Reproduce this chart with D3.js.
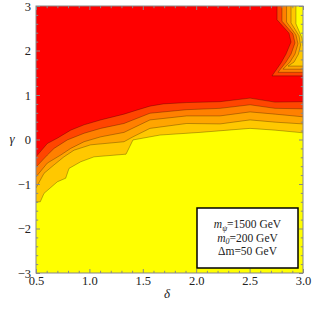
<!DOCTYPE html>
<html>
<head>
<meta charset="utf-8">
<script src="https://cdn.jsdelivr.net/npm/d3@7"></script>
<style>
  body { margin: 0; background: #fff; }
  svg { display: block; }
  text { font-family: "Liberation Serif", "DejaVu Serif", serif; fill: #222; }
  .tick text { font-size: 12.5px; }
</style>
</head>
<body>
<svg id="chart" width="312" height="310"></svg>
<script>
// band colours, lowest (yellow) to highest (red)
const levelColors = ['#ffff00', '#ffc800', '#ffa500', '#ff8000', '#ff4500', '#ff0000']

// lower contour lines, [delta, gamma], left to right
const edge1 = [[0.5, -1.40], [0.54, -1.40], [0.575, -1.21], [0.70, -0.95], [0.778, -0.87], [0.809, -0.65], [0.919, -0.50], [1.043, -0.39], [1.343, -0.33], [1.408, -0.01], [1.661, 0.10], [2.036, 0.16], [2.504, 0.25], [2.738, 0.21], [3.0, 0.15]]
const edge2 = [[0.5, -1.09], [0.575, -0.76], [0.669, -0.57], [0.762, -0.39], [0.856, -0.24], [1.012, -0.12], [1.324, -0.05], [1.408, 0.06], [1.567, 0.25], [1.911, 0.36], [2.223, 0.35], [2.504, 0.44], [2.738, 0.39], [3.0, 0.35]]
const edge3 = [[0.5, -0.84], [0.606, -0.53], [0.731, -0.35], [0.825, -0.20], [0.95, -0.05], [1.106, 0.06], [1.324, 0.16], [1.567, 0.44], [1.911, 0.53], [2.223, 0.53], [2.504, 0.62], [2.738, 0.57], [3.0, 0.51]]
const edge4 = [[0.5, -0.62], [0.606, -0.35], [0.669, -0.20], [0.793, -0.01], [0.95, 0.14], [1.106, 0.25], [1.324, 0.36], [1.567, 0.59], [1.911, 0.67], [2.223, 0.70], [2.504, 0.78], [2.738, 0.70], [3.0, 0.69]]
const edge5 = [[0.5, -0.39], [0.606, -0.09], [0.70, 0.03], [0.825, 0.21], [0.95, 0.33], [1.106, 0.44], [1.324, 0.57], [1.443, 0.66], [1.567, 0.75], [1.692, 0.80], [1.911, 0.83], [2.223, 0.85], [2.504, 0.93], [2.738, 0.84], [3.0, 0.85]]

// contour lines in the top right corner, from the top edge to the right edge
const corner1 = [[2.934, 3], [2.934, 2.60], [2.991, 2.28], [3.0, 2.10]]
const corner2 = [[2.888, 3], [2.888, 2.62], [2.963, 2.33], [2.977, 2.12], [2.958, 1.92], [2.916, 1.74], [2.860, 1.65], [3.0, 1.65]]
const corner3 = [[2.846, 3], [2.846, 2.64], [2.934, 2.35], [2.953, 2.15], [2.925, 1.92], [2.878, 1.74], [2.813, 1.58], [3.0, 1.58]]
const corner4 = [[2.803, 3], [2.803, 2.66], [2.906, 2.37], [2.925, 2.17], [2.888, 1.92], [2.841, 1.74], [2.766, 1.51], [3.0, 1.51]]
const corner5 = [[2.757, 3], [2.757, 2.69], [2.869, 2.39], [2.888, 2.19], [2.841, 1.92], [2.794, 1.72], [2.710, 1.43], [3.0, 1.43]]

const deltaTicks = [0.5, 1.0, 1.5, 2.0, 2.5, 3.0]
const gammaTicks = [-3, -2, -1, 0, 1, 2, 3]

const legendLines = [
    { sym: 'm', sub: 'ψ', rest: '=1500 GeV' },
    { sym: 'm', sub: '0', rest: '=200 GeV' },
    { sym: 'Δm', sub: '', rest: '=50 GeV' }
]

const edges = [edge1, edge2, edge3, edge4, edge5]
const corners = [corner1, corner2, corner3, corner4, corner5]

const svg = d3.select('#chart')

const x = d3.scaleLinear().domain([0.5, 3]).range([36, 303])
const y = d3.scaleLinear().domain([-3, 3]).range([273, 6])

const line = d3.line()
    .x(d => x(d[0]))
    .y(d => y(d[1]))

svg.append('clipPath')
    .attr('id', 'plot-clip')
    .append('rect')
    .attr('x', x(0.5))
    .attr('y', y(3))
    .attr('width', x(3) - x(0.5))
    .attr('height', y(-3) - y(3))

const plot = svg.append('g').attr('clip-path', 'url(#plot-clip)')

// yellow base
plot.append('rect')
    .attr('x', x(0.5))
    .attr('y', y(3))
    .attr('width', x(3) - x(0.5))
    .attr('height', y(-3) - y(3))
    .attr('fill', levelColors[0])

// each band: above its lower edge, outside its corner edge
edges.forEach((edge, i) => {
    const poly = edge.concat(corners[i].slice().reverse(), [[0.5, 3]])
    plot.append('path')
        .attr('d', line(poly) + 'Z')
        .attr('fill', levelColors[i + 1])
})

// contour lines
edges.concat(corners).forEach(c => {
    plot.append('path')
        .attr('d', line(c))
        .attr('fill', 'none')
        .attr('stroke', '#000')
        .attr('stroke-opacity', 0.3)
        .attr('stroke-width', 0.9)
})

// ticks, Mathematica style (inside the frame)
const minorX = d3.range(0.5, 3.001, 0.1).filter(v => Math.abs(v * 2 - Math.round(v * 2)) > 0.01)
const minorY = d3.range(-3, 3.001, 0.2).filter(v => Math.abs(v - Math.round(v)) > 0.01)

const tidy = g => {
    g.select('.domain').remove()
    g.selectAll('.tick line').attr('stroke', '#888')
}

svg.append('g')
    .attr('transform', `translate(0,${y(-3)})`)
    .call(d3.axisBottom(x).tickValues(deltaTicks).tickSize(-4).tickPadding(3).tickFormat(d3.format('.1f')))
    .call(tidy)
svg.append('g')
    .attr('transform', `translate(0,${y(-3)})`)
    .call(d3.axisBottom(x).tickValues(minorX).tickSize(-2.2).tickFormat(''))
    .call(tidy)
svg.append('g')
    .attr('transform', `translate(0,${y(3)})`)
    .call(d3.axisTop(x).tickValues(deltaTicks).tickSize(-4).tickFormat(''))
    .call(tidy)
svg.append('g')
    .attr('transform', `translate(0,${y(3)})`)
    .call(d3.axisTop(x).tickValues(minorX).tickSize(-2.2).tickFormat(''))
    .call(tidy)

svg.append('g')
    .attr('transform', `translate(${x(0.5)},0)`)
    .call(d3.axisLeft(y).tickValues(gammaTicks).tickSize(-4).tickPadding(5).tickFormat(d3.format('d')))
    .call(tidy)
svg.append('g')
    .attr('transform', `translate(${x(0.5)},0)`)
    .call(d3.axisLeft(y).tickValues(minorY).tickSize(-2.2).tickFormat(''))
    .call(tidy)
svg.append('g')
    .attr('transform', `translate(${x(3)},0)`)
    .call(d3.axisRight(y).tickValues(gammaTicks).tickSize(-4).tickFormat(''))
    .call(tidy)
svg.append('g')
    .attr('transform', `translate(${x(3)},0)`)
    .call(d3.axisRight(y).tickValues(minorY).tickSize(-2.2).tickFormat(''))
    .call(tidy)

// frame
svg.append('rect')
    .attr('x', x(0.5))
    .attr('y', y(3))
    .attr('width', x(3) - x(0.5))
    .attr('height', y(-3) - y(3))
    .attr('fill', 'none')
    .attr('stroke', '#888')
    .attr('stroke-width', 1)

// axis titles
svg.append('text')
    .attr('x', 12)
    .attr('y', 143)
    .attr('text-anchor', 'middle')
    .style('font-size', '13px')
    .style('font-style', 'italic')
    .text('γ')

svg.append('text')
    .attr('x', 167)
    .attr('y', 298)
    .attr('text-anchor', 'middle')
    .style('font-size', '13px')
    .style('font-style', 'italic')
    .text('δ')

// legend box
svg.append('rect')
    .attr('x', 197)
    .attr('y', 208)
    .attr('width', 101)
    .attr('height', 60)
    .attr('fill', '#fff')
    .attr('stroke', '#000')
    .attr('stroke-width', 1.5)

const legendText = svg.selectAll('.legend-line')
    .data(legendLines)
    .enter()
    .append('text')
    .classed('legend-line', true)
    .attr('x', 247.5)
    .attr('y', (d, i) => 228 + i * 13.7)
    .attr('text-anchor', 'middle')
    .style('font-size', '11.5px')

legendText.append('tspan')
    .style('font-style', d => d.sub ? 'italic' : 'normal')
    .text(d => d.sym)
legendText.filter(d => d.sub).append('tspan')
    .attr('dy', 2.5)
    .style('font-size', '8px')
    .style('font-style', 'italic')
    .text(d => d.sub)
legendText.append('tspan')
    .attr('dy', d => d.sub ? -2.5 : 0)
    .text(d => d.rest)
</script>
</body>
</html>
